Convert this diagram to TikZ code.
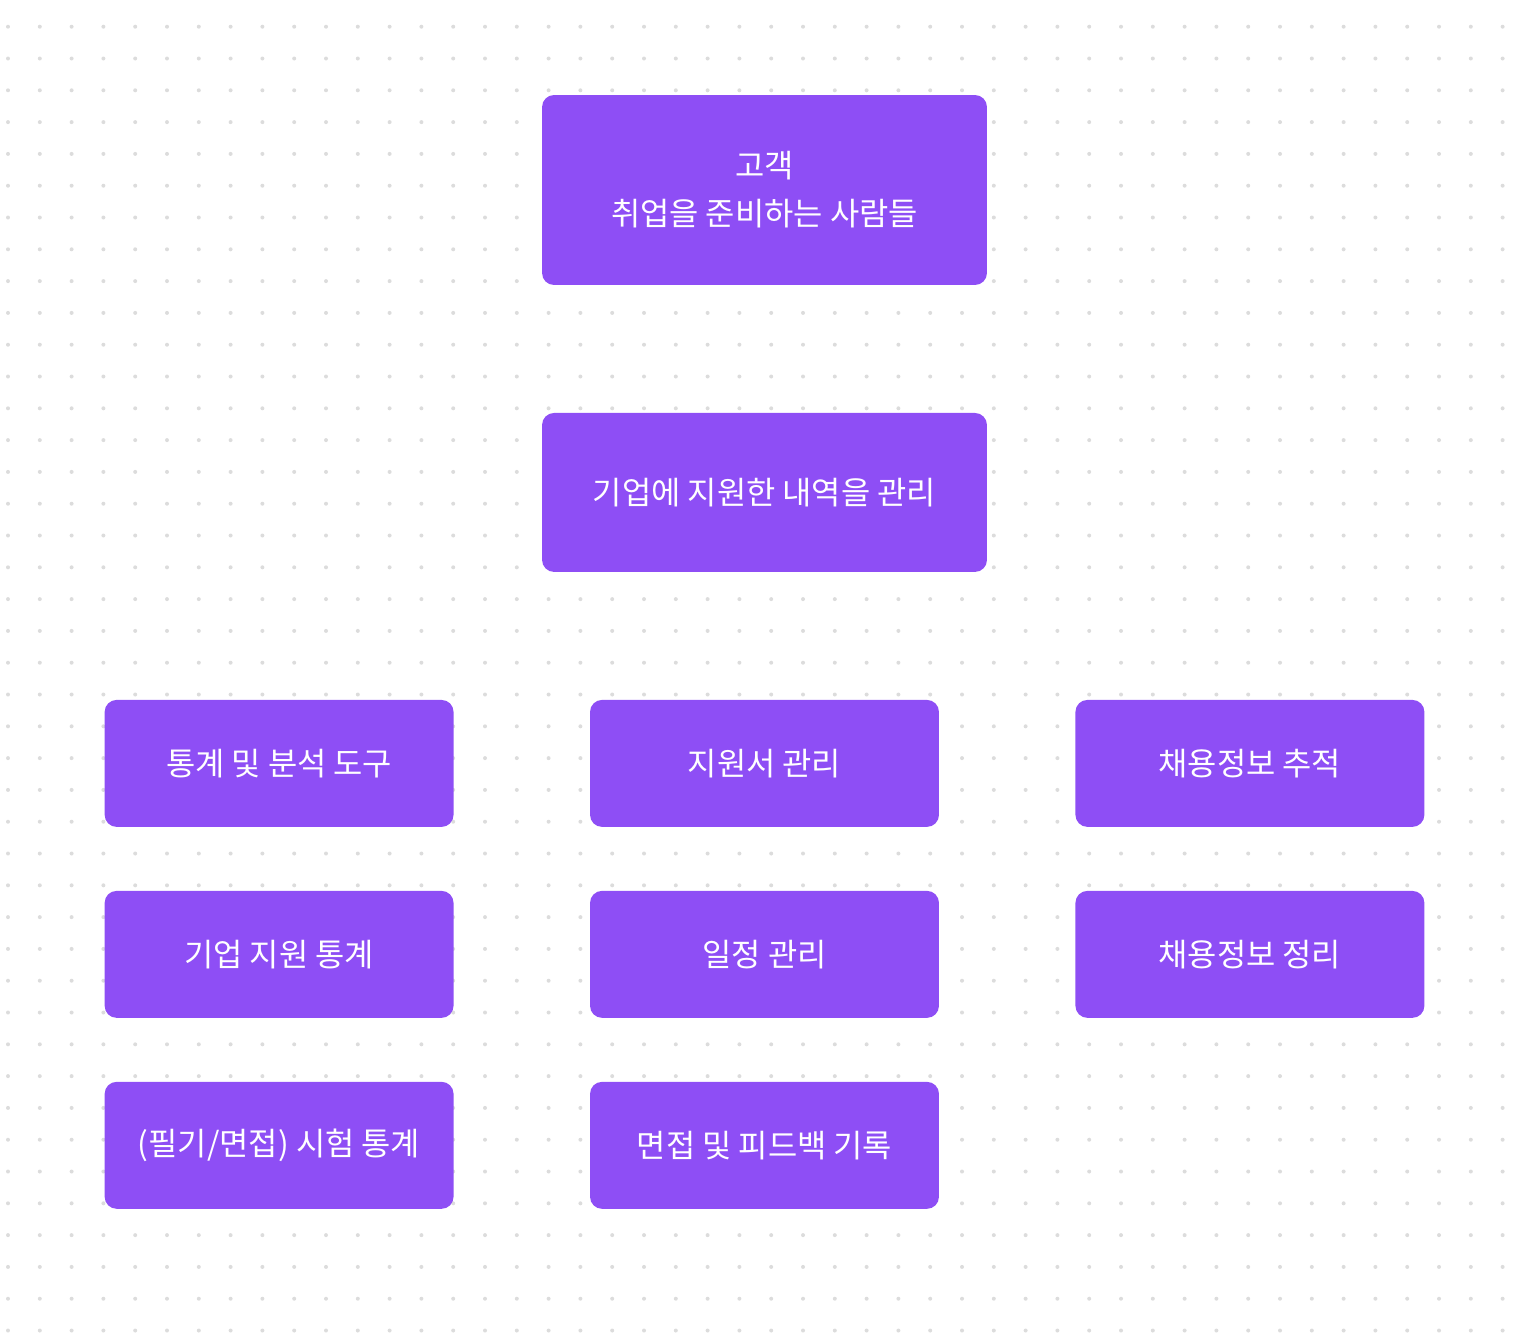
\documentclass[tikz,border=0pt]{standalone}
\usepackage{fontspec}
\setmainfont{Noto Sans CJK KR}
\usepackage{xcolor}
\usepackage{tikz}
\usetikzlibrary{positioning}
\definecolor{cardpurple}{HTML}{8E4EF5}
\definecolor{dotgray}{HTML}{DCDCDC}
\tikzset{main node/.style={rectangle,rounded corners=0.24cm,fill=cardpurple,text=white,font=\fontsize{18.1}{27.4}\selectfont,align=center,inner sep=0pt,outer sep=0pt},
            wide node/.style={main node,minimum width=8.9cm},
            small node/.style={main node,minimum width=6.98cm,minimum height=2.54cm},
            }

\begin{document}
\begin{tikzpicture}[x=0.02cm,y=-0.02cm]

    \useasboundingbox (0,0) rectangle (1530,1340);

    % dotted background
    \foreach \i in {0,...,47}
        \foreach \j in {0,...,41}
            \fill[dotgray] (8+31.8*\i,26.7+31.8*\j) circle (0.04cm);

    \node[wide node,minimum height=3.8cm] (cust) at (764.5,190) {고객\\취업을 준비하는 사람들};
    \node[wide node,minimum height=3.18cm] (apply) [below = 2.56cm of cust] {기업에 지원한 내역을 관리};

    \node[small node] (doc) [below = 2.56cm of apply] {지원서 관리};
    \node[small node] (tool) [left = 2.73cm of doc] {통계 및 분석 도구};
    \node[small node] (track) [right = 2.73cm of doc] {채용정보 추적};

    \node[small node] (plan) [below = 1.28cm of doc] {일정 관리};
    \node[small node] (corp) [below = 1.28cm of tool] {기업 지원 통계};
    \node[small node] (sort) [below = 1.28cm of track] {채용정보 정리};

    \node[small node] (memo) [below = 1.28cm of plan] {면접 및 피드백 기록};
    \node[small node] (exam) [below = 1.28cm of corp] {(필기/면접) 시험 통계};

\end{tikzpicture}
\end{document}
